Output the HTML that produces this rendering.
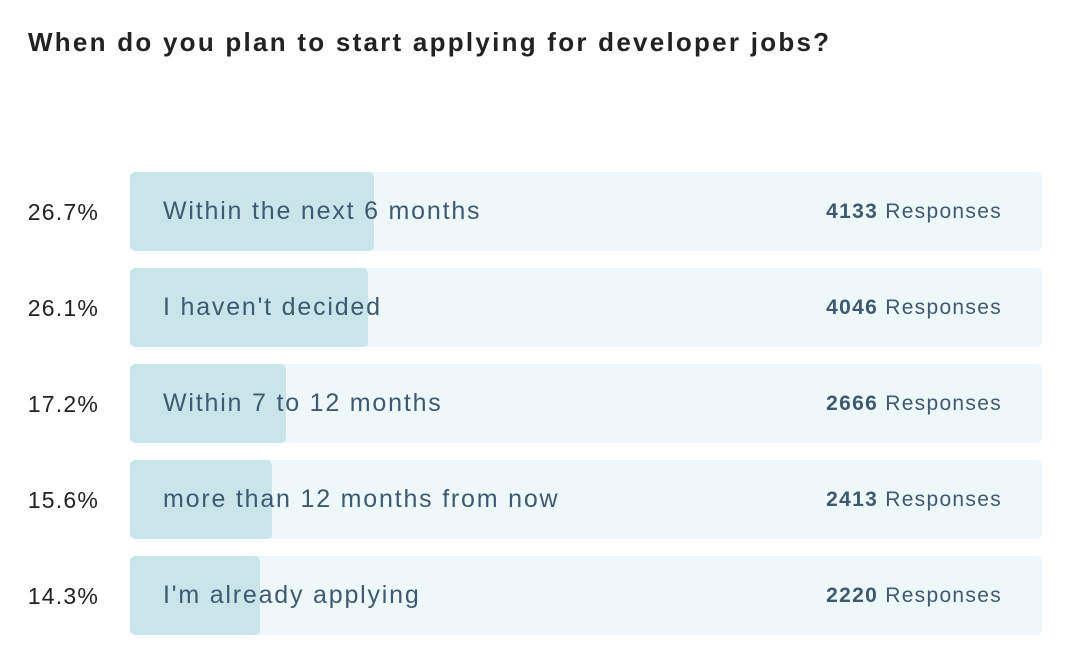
<!DOCTYPE html>
<html><head><style>
body{margin:0;width:1074px;height:658px;background:#fff;font-family:"Liberation Sans",sans-serif;position:relative;overflow:hidden}
h1{position:absolute;left:28px;top:27px;margin:0;font-size:26px;font-weight:bold;color:#222;letter-spacing:2.25px;white-space:nowrap}
.pct{position:absolute;right:975px;font-size:23px;color:#222;line-height:80px;letter-spacing:1.2px}
.bar{position:absolute;left:130px;width:912px;height:79px;background:#eef7f9;border-radius:5px;overflow:hidden}
.fill{position:absolute;left:0;top:0;height:100%;background:#c9e5ea;border-radius:5px}
.lbl{position:absolute;left:33px;top:0;line-height:79px;font-size:25px;color:#3e5a72;letter-spacing:1.8px;white-space:nowrap}
.resp{position:absolute;right:40px;top:0;line-height:79px;font-size:21px;color:#3e5a72;letter-spacing:1.3px;white-space:nowrap}
.resp b{font-weight:bold}
</style></head><body>
<h1>When do you plan to start applying for developer jobs?</h1>

<div class="pct" style="top:172px">26.7%</div>
<div class="bar" style="top:172px"><div class="fill" style="width:244px"></div><div class="lbl">Within the next 6 months</div><div class="resp"><b>4133</b> Responses</div></div>

<div class="pct" style="top:268px">26.1%</div>
<div class="bar" style="top:268px"><div class="fill" style="width:238px"></div><div class="lbl">I haven't decided</div><div class="resp"><b>4046</b> Responses</div></div>

<div class="pct" style="top:364px">17.2%</div>
<div class="bar" style="top:364px"><div class="fill" style="width:156px"></div><div class="lbl">Within 7 to 12 months</div><div class="resp"><b>2666</b> Responses</div></div>

<div class="pct" style="top:460px">15.6%</div>
<div class="bar" style="top:460px"><div class="fill" style="width:142px"></div><div class="lbl">more than 12 months from now</div><div class="resp"><b>2413</b> Responses</div></div>

<div class="pct" style="top:556px">14.3%</div>
<div class="bar" style="top:556px"><div class="fill" style="width:130px"></div><div class="lbl">I'm already applying</div><div class="resp"><b>2220</b> Responses</div></div>
</body></html>
